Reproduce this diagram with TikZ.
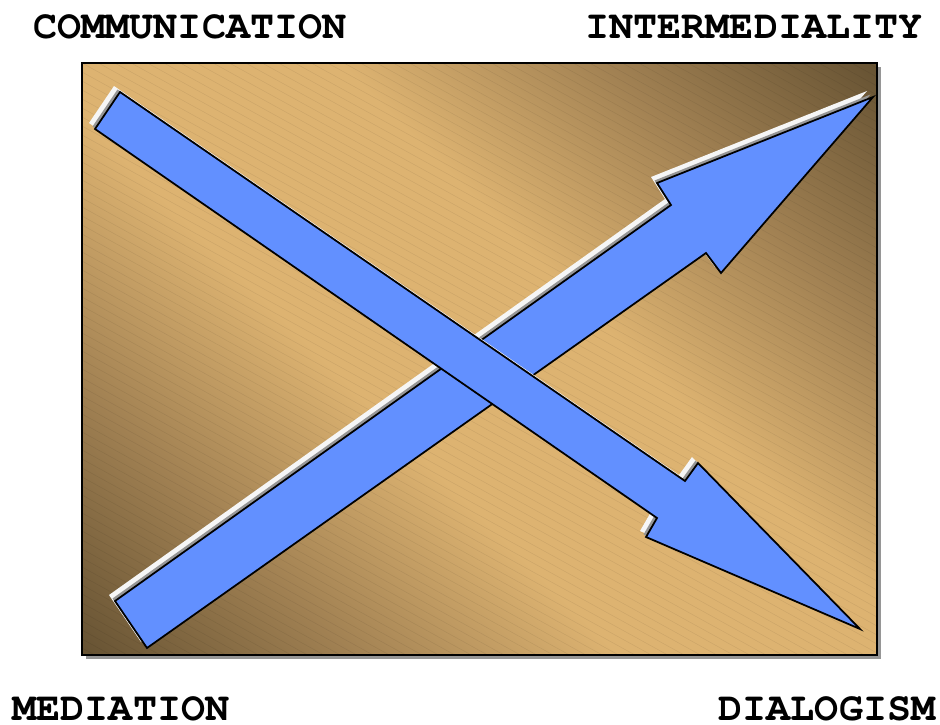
\documentclass[tikz,border=0pt]{standalone}
\usepackage{fontspec}
\setmonofont{texgyrecursor-regular}[Extension=.otf, BoldFont=texgyrecursor-bold]
\definecolor{boardlight}{RGB}{221,179,113}
\definecolor{boardmid}{RGB}{160,128,82}
\definecolor{boarddark}{RGB}{104,84,52}
\definecolor{arrowblue}{RGB}{98,144,255}
\definecolor{embossgray}{RGB}{150,150,150}
\definecolor{embosswhite}{RGB}{246,246,246}
\pgfdeclareverticalshading{boardshade}{100bp}{color(0bp)=(boarddark); color(15bp)=(boarddark); color(28bp)=(boardmid); color(42bp)=(boardlight); color(58bp)=(boardlight); color(72bp)=(boardmid); color(85bp)=(boarddark); color(100bp)=(boarddark)}
% outlines of the two arrows
\newcommand\arrowdown{(120,92)--(685,481)--(698,463)--(860,629)--(646,537)--(657,518)--(95,129)--cycle}
\newcommand\arrowup{(147,648)--(706,253)--(721,273)--(873,97)--(657,183)--(671,205)--(115,601)--cycle}
\begin{document}
\begin{tikzpicture}[x=0.02cm, y=-0.02cm,
    every node/.style={font=\fontsize{22.8}{24}\selectfont\ttfamily\bfseries, inner sep=0pt, anchor=base},
    hilite/.style={fill=embosswhite, shift={(-6,-6)}},
    lolite/.style={fill=embossgray, shift={(-2.5,-2.5)}},
    arrowbody/.style={fill=arrowblue, draw=black, line width=1pt, line join=miter}]
  \useasboundingbox (0,0) rectangle (940,724);
  \coordinate (TL) at (82,63);
  \coordinate (BR) at (877,655);
  % board with drop shadow
  \fill[embossgray] (86,67) rectangle (881,659);
  \shade[shading=boardshade, shading angle=-45] (TL) rectangle (BR);
  \begin{scope}
    \clip (TL) rectangle (BR);
    \foreach \k in {-42,...,74}
      \draw[black, opacity=.07, line width=.3pt] (82,9*\k) -- (877,9*\k+437);
  \end{scope}
  \draw[line width=1.1pt] (TL) rectangle (BR);
  % mediation -> intermediality
  \fill[hilite] \arrowup;
  \fill[lolite] \arrowup;
  \filldraw[arrowbody] \arrowup;
  % communication -> dialogism
  \fill[hilite] \arrowdown;
  \fill[lolite] \arrowdown;
  \filldraw[arrowbody] \arrowdown;
  % labels
  \node (comm) at (190,38) {COMMUNICATION};
  \node (inter) at (754,38) {INTERMEDIALITY};
  \node (medi) at (121,720) {MEDIATION};
  \node (dial) at (827,720) {DIALOGISM};
\end{tikzpicture}
\end{document}
